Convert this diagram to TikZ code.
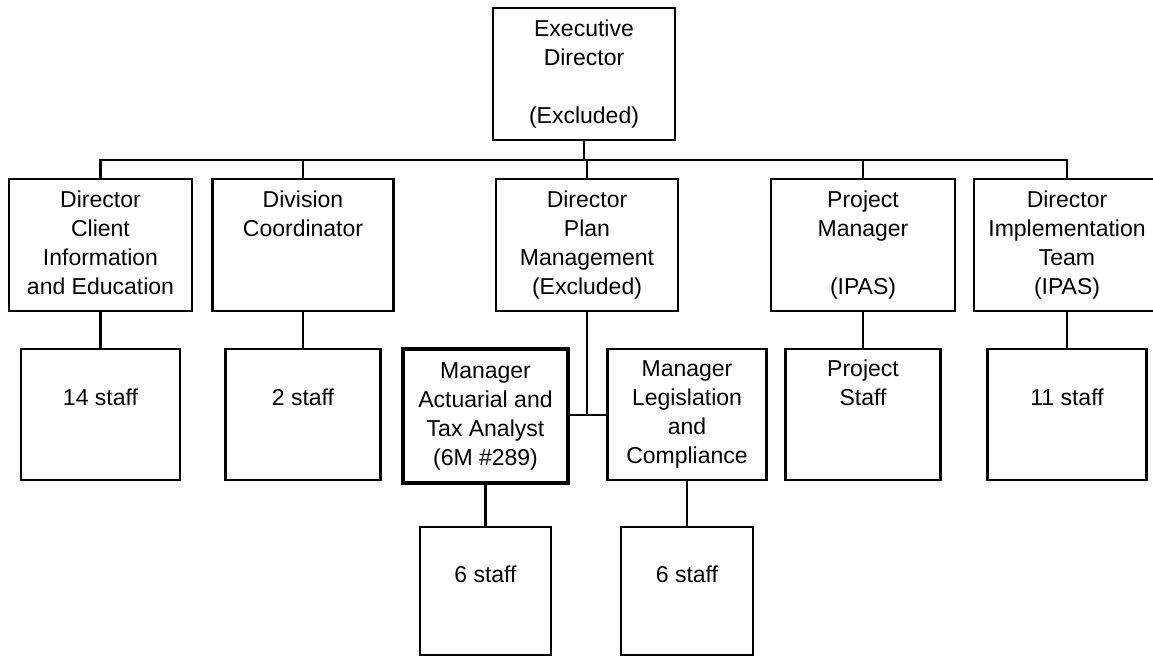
\documentclass[tikz,border=0pt]{standalone}
\usepackage{fontspec}
\setmainfont{Liberation Sans}
\begin{document}
\begin{tikzpicture}[x=1pt,y=-1pt,
  box/.style={draw, line width=2.2pt, inner sep=0pt, align=center,
    font=\fontsize{23}{29}\selectfont, minimum height=131pt},
  heavybox/.style={box, line width=4.5pt},
  conn/.style={line width=2.2pt}]
\useasboundingbox[fill=white] (0,0) rectangle (1153,656);
\node[box, minimum width=182pt, minimum height=132pt] (exec) at (584,74)
  {\strut Executive\\\strut Director\\\strut\\\strut (Excluded)};
\node[box, minimum width=183pt, minimum height=132pt] (d1) at (100.5,245)
  {\strut Director\\\strut Client\\\strut Information\\\strut and Education};
\node[box, minimum width=181pt, minimum height=132pt] (d2) at (303,245)
  {\strut Division\\\strut Coordinator\\\strut\\\strut};
\node[box, minimum width=182pt, minimum height=132pt] (d3) at (587,245)
  {\strut Director\\\strut Plan\\\strut Management\\\strut (Excluded)};
\node[box, minimum width=184pt, minimum height=132pt] (d4) at (863,245)
  {\strut Project\\\strut Manager\\\strut\\\strut (IPAS)};
\node[box, minimum width=186pt, minimum height=132pt] (d5) at (1067,245)
  {\strut Director\\\strut Implementation\\\strut Team\\\strut (IPAS)};
\node[box, minimum width=159pt] (s1) at (100.5,414.5)
  {\strut\\\strut 14 staff\\\strut\\\strut};
\node[box, minimum width=155pt] (s2) at (303,414.5)
  {\strut\\\strut 2 staff\\\strut\\\strut};
\node[heavybox, minimum width=165pt, minimum height=134pt] (m1) at (485.5,416)
  {\strut Manager\\\strut Actuarial and\\\strut Tax Analyst\\\strut (6M \#289)};
\node[box, minimum width=159pt] (m2) at (687,414.5)
  {\strut Manager\\\strut Legislation\\\strut and\\\strut Compliance};
\node[box, minimum width=155pt] (s3) at (863,414.5)
  {\strut Project\\\strut Staff\\\strut\\\strut};
\node[box, minimum width=159pt] (s4) at (1067,414.5)
  {\strut\\\strut 11 staff\\\strut\\\strut};
\node[box, minimum width=131pt, minimum height=128pt] (s5) at (485.5,591)
  {\strut\\\strut 6 staff\\\strut\\\strut};
\node[box, minimum width=132pt, minimum height=128pt] (s6) at (687,591)
  {\strut\\\strut 6 staff\\\strut\\\strut};
\coordinate (bus) at (584,160);
\coordinate (j) at (587,415);
\draw[conn] (exec.south) -- (exec.south |- bus);
\draw[conn] (d1.north) |- (d5.north |- bus) -- (d5.north);
\draw[conn] (d2.north) -- (d2.north |- bus);
\draw[conn] (d3.north) -- (d3.north |- bus);
\draw[conn] (d4.north) -- (d4.north |- bus);
\draw[conn] (d1.south) -- (s1.north);
\draw[conn] (d2.south) -- (s2.north);
\draw[conn] (d4.south) -- (s3.north);
\draw[conn] (d5.south) -- (s4.north);
\draw[conn] (d3.south) -- (j);
\draw[conn] (m1.east |- j) -- (m2.west |- j);
\draw[conn] (m1.south) -- (s5.north);
\draw[conn] (m2.south) -- (s6.north);
\end{tikzpicture}
\end{document}
